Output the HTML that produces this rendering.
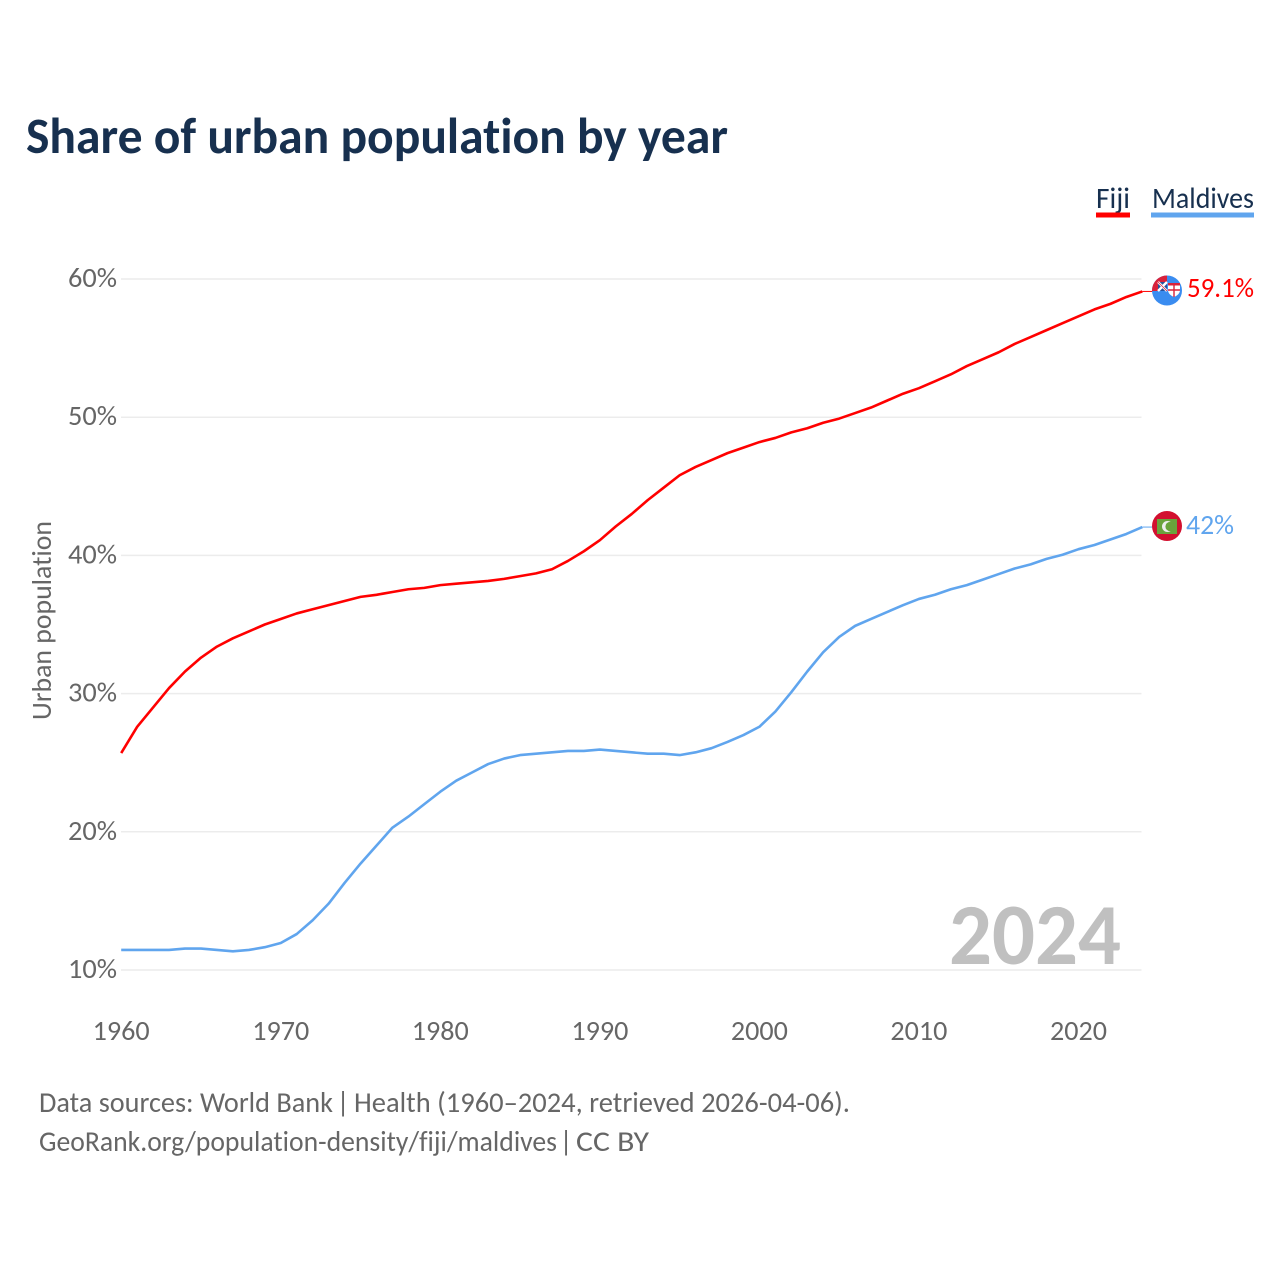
<!DOCTYPE html>
<html lang="en">
<head>
<meta charset="utf-8">
<title>Share of urban population by year</title>
<style>
  html, body { margin: 0; padding: 0; background: #fff; }
  svg { display: block; font-family: "Carlito", "Lato", "Liberation Sans", sans-serif; font-variant-ligatures: none; font-feature-settings: "liga" 0, "clig" 0; }
</style>
</head>
<body>
<svg id="chart" xmlns="http://www.w3.org/2000/svg" width="1280" height="1280" viewBox="0 0 1280 1280">
  <defs>
    <clipPath id="clip-fiji"><circle cx="1167" cy="290.5" r="15"></circle></clipPath>
    <clipPath id="clip-maldives"><circle cx="1167" cy="526" r="15"></circle></clipPath>
  </defs>
  <rect x="0" y="0" width="1280" height="1280" fill="#ffffff"></rect>
  <text x="26" y="153" font-size="51" font-weight="700" fill="#17304f" textLength="702" lengthAdjust="spacingAndGlyphs">Share of urban population by year</text>

  <g>
    <g>
      <text x="1096" y="208" font-size="29.5" fill="#17304f" textLength="34" lengthAdjust="spacingAndGlyphs">Fiji</text>
      <rect x="1096" y="212.5" width="34" height="5" fill="#ff0000"></rect>
    </g>
    <g>
      <text x="1152" y="208" font-size="29.5" fill="#17304f" textLength="102" lengthAdjust="spacingAndGlyphs">Maldives</text>
      <rect x="1151" y="212.5" width="103" height="5" fill="#60a5ee"></rect>
    </g>
  </g>

  <g id="grid"></g>
  <g id="y-axis"></g>
  <g id="x-axis"></g>
  <text transform="translate(51 720) rotate(-90)" font-size="28" fill="#666666" textLength="199" lengthAdjust="spacingAndGlyphs">Urban population</text>

  <text x="1121" y="964" text-anchor="end" font-size="87" font-weight="700" fill="#c0c0c0" textLength="172" lengthAdjust="spacingAndGlyphs">2024</text>

  <g id="series"></g>

  <g id="fiji-flag" clip-path="url(#clip-fiji)">
    <rect x="1152" y="275" width="30" height="31" fill="#3a8cf0"></rect>
    <rect x="1152" y="275" width="15" height="16" fill="#d8213a"></rect>
    <rect x="1158" y="282" width="9" height="9" fill="#27509b"></rect>
    <path d="M1158 282 L1167 291 M1167 282 L1158 291" stroke="#ffffff" stroke-width="2.4" fill="none"></path>
    <path d="M1158 282 L1167 291" stroke="#d8213a" stroke-width="0.8" fill="none"></path>
    <path d="M1168 283 H1180 V291 Q1179 295 1174 297 Q1169 295 1168 291 Z" fill="#ffffff"></path>
    <path d="M1174 284 V297 M1168 290 H1180" stroke="#d8213a" stroke-width="1.4" fill="none"></path>
    <rect x="1168" y="283" width="12" height="2.5" fill="#d8213a"></rect>
  </g>
  <text id="label-fiji" x="1187" y="297" font-size="28" fill="#ff0000" textLength="67" lengthAdjust="spacingAndGlyphs">59.1%</text>

  <g id="maldives-flag" clip-path="url(#clip-maldives)">
    <rect x="1152" y="511" width="30" height="30" fill="#d2102f"></rect>
    <rect x="1157" y="519" width="20" height="15" fill="#6aa33c"></rect>
    <circle cx="1167.5" cy="526.5" r="5.5" fill="#eeeeee"></circle>
    <circle cx="1170" cy="526.5" r="4.6" fill="#6aa33c"></circle>
  </g>
  <text id="label-maldives" x="1186" y="534" font-size="28" fill="#60a5ee" textLength="48" lengthAdjust="spacingAndGlyphs">42%</text>

  <g font-size="28.5" fill="#666666">
    <text x="39" y="1112" textLength="294" lengthAdjust="spacingAndGlyphs">Data sources: World Bank</text>
    <text x="343" y="1112" text-anchor="middle">|</text>
    <text x="354" y="1112" textLength="496" lengthAdjust="spacingAndGlyphs">Health (1960–2024, retrieved 2026-04-06).</text>
    <text x="39" y="1151" textLength="518" lengthAdjust="spacingAndGlyphs">GeoRank.org/population-density/fiji/maldives</text>
    <text x="566" y="1151" text-anchor="middle">|</text>
    <text x="576" y="1151" textLength="73" lengthAdjust="spacingAndGlyphs">CC BY</text>
  </g>
</svg>

<script>
const years = [1960,1961,1962,1963,1964,1965,1966,1967,1968,1969,1970,1971,1972,1973,1974,1975,1976,1977,1978,1979,1980,1981,1982,1983,1984,1985,1986,1987,1988,1989,1990,1991,1992,1993,1994,1995,1996,1997,1998,1999,2000,2001,2002,2003,2004,2005,2006,2007,2008,2009,2010,2011,2012,2013,2014,2015,2016,2017,2018,2019,2020,2021,2022,2023,2024];
const fijiValues = [25.7,27.6,29.0,30.4,31.6,32.6,33.4,34.0,34.5,35.0,35.4,35.8,36.1,36.4,36.7,37.0,37.15,37.35,37.55,37.65,37.85,37.95,38.05,38.15,38.3,38.5,38.7,39.0,39.6,40.3,41.1,42.1,43.0,44.0,44.9,45.8,46.4,46.9,47.4,47.8,48.2,48.5,48.9,49.2,49.6,49.9,50.3,50.7,51.2,51.7,52.1,52.6,53.1,53.7,54.2,54.7,55.3,55.8,56.3,56.8,57.3,57.8,58.2,58.7,59.1];
const maldivesValues = [11.45,11.45,11.45,11.45,11.55,11.55,11.45,11.35,11.45,11.65,11.95,12.6,13.6,14.8,16.3,17.7,19.0,20.3,21.1,22.0,22.9,23.7,24.3,24.9,25.3,25.55,25.65,25.75,25.85,25.85,25.95,25.85,25.75,25.65,25.65,25.55,25.75,26.05,26.5,27.0,27.6,28.7,30.1,31.6,33.0,34.1,34.9,35.4,35.9,36.4,36.85,37.15,37.55,37.85,38.25,38.65,39.05,39.35,39.75,40.05,40.45,40.75,41.15,41.55,42.05];
const yTickValues = [10,20,30,40,50,60];
const yTickLabels = ["10%","20%","30%","40%","50%","60%"];
const xTickValues = [1960,1970,1980,1990,2000,2010,2020];
const xTickLabels = ["1960","1970","1980","1990","2000","2010","2020"];

const NS = "http://www.w3.org/2000/svg";
function xScale(year) { return 121.2 + (year - 1960) * 15.955; }
function yScale(value) { return 970 - (value - 10) * 13.82; }

const grid = document.getElementById("grid");
const yAxis = document.getElementById("y-axis");
const xAxis = document.getElementById("x-axis");
const seriesGroup = document.getElementById("series");

yTickValues.forEach(function (tick, i) {
  const line = document.createElementNS(NS, "line");
  
  
  line.setAttribute("x1", 121);
  line.setAttribute("x2", 1141.5);
  line.setAttribute("y1", yScale(tick));
  line.setAttribute("y2", yScale(tick));
  line.setAttribute("stroke", "#ececec");
  line.setAttribute("stroke-width", "1.5");
  grid.appendChild(line);

  const label = document.createElementNS(NS, "text");
  
  
  label.setAttribute("x", 117);
  label.setAttribute("y", yScale(tick) + 8);
  label.setAttribute("text-anchor", "end");
  label.setAttribute("font-size", "28");
  label.setAttribute("fill", "#666666");
  label.setAttribute("textLength", "49");
  label.setAttribute("lengthAdjust", "spacingAndGlyphs");
  label.textContent = yTickLabels[i];
  yAxis.appendChild(label);
});

xTickValues.forEach(function (tick, i) {
  const label = document.createElementNS(NS, "text");
  
  
  label.setAttribute("x", xScale(tick));
  label.setAttribute("y", 1040);
  label.setAttribute("text-anchor", "middle");
  label.setAttribute("font-size", "28");
  label.setAttribute("fill", "#666666");
  label.setAttribute("textLength", "57");
  label.setAttribute("lengthAdjust", "spacingAndGlyphs");
  label.textContent = xTickLabels[i];
  xAxis.appendChild(label);
});

function drawSeries(values, color, name) {
  const pts = values.map(function (v, i) {
    return xScale(years[i]).toFixed(2) + "," + yScale(v).toFixed(2);
  });
  const path = document.createElementNS(NS, "polyline");
  
  
  path.setAttribute("points", pts.join(" "));
  path.setAttribute("fill", "none");
  path.setAttribute("stroke", color);
  path.setAttribute("stroke-width", "2.6");
  path.setAttribute("stroke-linejoin", "round");
  seriesGroup.appendChild(path);

  const last = values[values.length - 1];
  const connector = document.createElementNS(NS, "line");
  
  
  connector.setAttribute("x1", xScale(years[years.length - 1]));
  connector.setAttribute("x2", 1153);
  connector.setAttribute("y1", yScale(last));
  connector.setAttribute("y2", yScale(last));
  connector.setAttribute("stroke", color);
  connector.setAttribute("stroke-width", "1");
  seriesGroup.appendChild(connector);
}

drawSeries(fijiValues, "#ff0000", "fiji-line");
drawSeries(maldivesValues, "#60a5ee", "maldives-line");
</script>
</body>
</html>
